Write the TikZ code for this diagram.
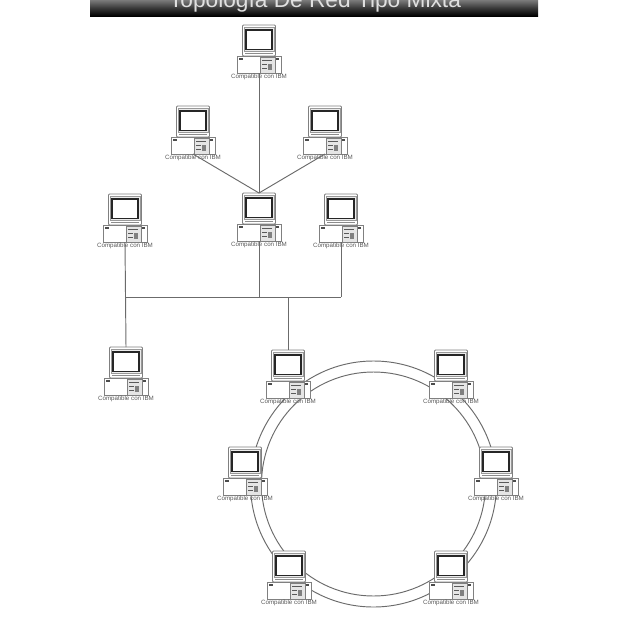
\documentclass[tikz,border=0pt]{standalone}
\usepackage{fontspec}
\setmainfont{Liberation Sans}
\usetikzlibrary{
  shadings
}
\definecolor{barGray}{gray}{.48}
\tikzset{
  wire/.style={
    draw,
    black!58,
    line width=.95pt
  },
  part/.style={
    draw,
    black!50,
    line width=.8pt,
    fill=white
  },
  pcLabel/.style={
    inner sep=0pt,
    font=\fontsize{6.2}{7}\selectfont,
    text=black!65
  },
  pics/computer/.style={
    code={
      \coordinate (-n) at (0,-15);
      \coordinate (-s) at (0,33);
      \path[part, rounded corners=1pt] (-16.5,-15) rectangle (16.5,16);
      \path[part, black!40, fill=black!8, line width=.5pt] (-15,-12.5) rectangle (15,11);
      \path[draw, black!85, line width=1.4pt, fill=white] (-13,-10) rectangle (13,9.5);
      \path[draw, black!45, line width=.6pt] (-14,13) -- (14,13);
      \path[part] (-22,16.5) rectangle (22,33);
      \path[fill=black!70] (-20,18) rectangle (-16,20);
      \path[fill=black!70] (16,18) rectangle (20,20);
      \path[part, fill=black!10, line width=.5pt] (1,17) rectangle (16,33);
      \path[draw, black!65, line width=.6pt] (3,20) -- (13,20) (3,24) -- (8,24) (3,28) -- (8,28);
      \path[fill=black!50] (8.5,24) rectangle (13,30);
      \node[pcLabel] (-label) at (0,37) {Compatible con IBM};
    }
  }
}
\begin{document}
\begin{tikzpicture}[x=1pt,y=-1pt]
  \useasboundingbox (0,0) rectangle (624,630);
  % title bar
  \begin{scope}
    \clip (90,0) rectangle (538,16);
    \node[rectangle, minimum width=448pt, minimum height=16pt, inner sep=0pt, top color=barGray, bottom color=black, middle color=black!78] (titleBar) at (314,8) {};
    \node[anchor=base, inner sep=0pt, text=black!12, font=\fontsize{22.7}{23}\selectfont] (title) at (315,7) {Topología De Red Tipo Mixta};
  \end{scope}
  % ring
  \node[circle, wire, minimum size=246pt, inner sep=0pt] (ringOuter) at (373.5,484) {};
  \node[circle, wire, minimum size=224pt, inner sep=0pt] (ringInner) at (373.5,484) {};
  % computers
  \pic (top) at (259,40) {computer};
  \pic (left) at (193,121) {computer};
  \pic (right) at (325,121) {computer};
  \pic (busA) at (125,209) {computer};
  \pic (hub) at (259,208) {computer};
  \pic (busB) at (341,209) {computer};
  \pic (busC) at (126,362) {computer};
  \pic (ringA) at (288,365) {computer};
  \pic (ringB) at (451,365) {computer};
  \pic (ringC) at (245,462) {computer};
  \pic (ringD) at (496,462) {computer};
  \pic (ringE) at (289,566) {computer};
  \pic (ringF) at (451,566) {computer};
  % star
  \draw[wire] (top-s) -- (hub-n);
  \draw[wire] (left-s) -- (hub-n);
  \draw[wire] (right-s) -- (hub-n);
  % bus
  \coordinate (busJoinA) at (busA-s |- 0,297);
  \coordinate (busJoinB) at (busB-s |- 0,297);
  \coordinate (busJoinC) at (hub-s |- 0,297);
  \coordinate (busJoinD) at (ringA-n |- 0,297);
  \draw[wire] (busJoinA) -- (busJoinB);
  \draw[wire] (busA-s) -- (busC-n);
  \draw[wire] (hub-s) -- (busJoinC);
  \draw[wire] (busB-s) -- (busJoinB);
  \draw[wire] (busJoinD) -- (ringA-n);
\end{tikzpicture}
\end{document}
